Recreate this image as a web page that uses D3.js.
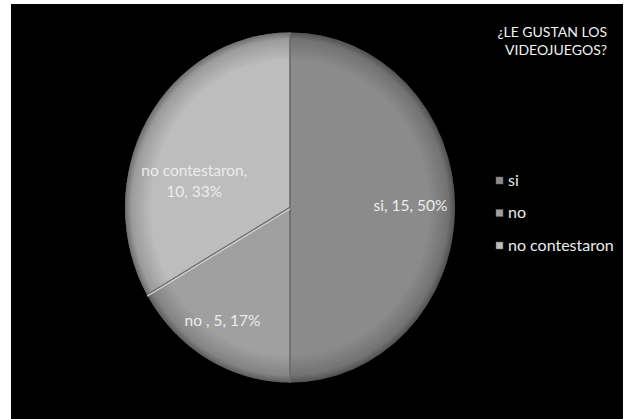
<!DOCTYPE html>
<html>
<head>
<meta charset="utf-8">
<script src="https://cdn.jsdelivr.net/npm/d3@7"></script>
<style>
  body { margin: 0; background: #fff; }
  svg { display: block; }
</style>
</head>
<body>
<div id="chart"></div>
<script>
// data
const categories = ['si', 'no', 'no contestaron'];
const values = [15, 5, 10];
const percents = ['50%', '17%', '33%'];
const sliceColors = ['#8b8b8b', '#a0a0a0', '#bdbdbd'];
const titleLines = ['¿LE GUSTAN LOS', 'VIDEOJUEGOS?'];

const width = 632, height = 419;
const font = 'Lato, "Open Sans", sans-serif';

const svg = d3.select('#chart').append('svg')
  .attr('width', width)
  .attr('height', height);

// black chart area
svg.append('rect')
  .attr('x', 11).attr('y', 4)
  .attr('width', 612).attr('height', height - 4)
  .attr('fill', '#000');

const defs = svg.append('defs');
const shade = defs.append('radialGradient').attr('id', 'shade')
  .attr('gradientUnits', 'userSpaceOnUse')
  .attr('cx', 0).attr('cy', 0).attr('r', 1);
shade.append('stop').attr('offset', '0.84').attr('stop-color', '#000').attr('stop-opacity', 0);
shade.append('stop').attr('offset', '0.96').attr('stop-color', '#000').attr('stop-opacity', 0.18);
shade.append('stop').attr('offset', '1').attr('stop-color', '#000').attr('stop-opacity', 0.42);

const blur = defs.append('filter').attr('id', 'soft')
  .attr('x', '-5%').attr('y', '-5%').attr('width', '110%').attr('height', '110%');
blur.append('feGaussianBlur').attr('stdDeviation', 0.7);

// pie: slightly taller than wide, drawn on a unit circle and scaled
const cx = 290, cy = 207.5, rx = 165, ry = 175;

const pie = d3.pie().sort(null).value(d => d)(values);
const arc = d3.arc().innerRadius(0).outerRadius(1);

const outer = svg.append('g').attr('filter', 'url(#soft)');
const g = outer.append('g')
  .attr('transform', `translate(${cx},${cy}) scale(${rx},${ry})`);

g.selectAll('path.slice')
  .data(pie)
  .join('path')
  .attr('class', 'slice')
  .attr('d', arc)
  .attr('fill', (d, i) => sliceColors[i]);

// outer rim shading
g.selectAll('path.rim')
  .data(pie)
  .join('path')
  .attr('class', 'rim')
  .attr('d', arc)
  .attr('fill', 'url(#shade)');

// slice borders
g.selectAll('line.edge')
  .data(pie)
  .join('line')
  .attr('class', 'edge')
  .attr('x1', 0).attr('y1', 0)
  .attr('x2', d => Math.sin(d.startAngle))
  .attr('y2', d => -Math.cos(d.startAngle))
  .attr('stroke', '#6e6e6e')
  .attr('stroke-width', 1.8)
  .attr('vector-effect', 'non-scaling-stroke');

g.selectAll('line.hi')
  .data(pie.filter((d, i) => i === 2))
  .join('line')
  .attr('class', 'hi')
  .attr('x1', 0).attr('y1', 0)
  .attr('x2', d => Math.sin(d.startAngle))
  .attr('y2', d => -Math.cos(d.startAngle))
  .attr('transform', 'translate(0,0.007)')
  .attr('stroke', '#d6d6d6')
  .attr('stroke-width', 1.2)
  .attr('vector-effect', 'non-scaling-stroke');

// data labels (Excel "best fit" placement: angle shift in degrees, radius fraction)
const labelPlace = [
  { shift: -1, r: 0.73 },
  { shift: 2.6, r: 0.76 },
  { shift: -15.3, r: 0.6 }
];
const labelLines = [
  [`${categories[0]}, ${values[0]}, ${percents[0]}`],
  [`${categories[1]} , ${values[1]}, ${percents[1]}`],
  [`${categories[2]},`, `${values[2]}, ${percents[2]}`]
];

pie.forEach((d, i) => {
  const a = (d.startAngle + d.endAngle) / 2 + labelPlace[i].shift * Math.PI / 180;
  const lx = cx + Math.sin(a) * rx * labelPlace[i].r;
  const ly = cy - Math.cos(a) * ry * labelPlace[i].r;
  const lines = labelLines[i];
  const lh = 21;
  const t = svg.append('text')
    .attr('x', lx)
    .attr('y', ly - (lines.length - 1) * lh / 2)
    .attr('text-anchor', 'middle')
    .attr('dominant-baseline', 'central')
    .attr('fill', '#ececec')
    .attr('font-family', font)
    .attr('font-size', '15.5px');
  lines.forEach((s, j) => {
    t.append('tspan').attr('x', lx).attr('dy', j === 0 ? 0 : lh).text(s);
  });
});

// title
const title = svg.append('text')
  .attr('text-anchor', 'end')
  .attr('fill', '#f2f2f2')
  .attr('font-family', font)
  .attr('font-size', '14px');
titleLines.forEach((s, j) => {
  title.append('tspan').attr('x', 607).attr('y', 37 + j * 18).text(s);
});

// legend
const legend = svg.append('g').attr('transform', 'translate(496,181)');
const items = legend.selectAll('g')
  .data(categories)
  .join('g')
  .attr('transform', (d, i) => `translate(0,${i * 32.5})`);

items.append('rect')
  .attr('x', 0).attr('y', -4)
  .attr('width', 7).attr('height', 7)
  .attr('fill', (d, i) => sliceColors[i])
  .attr('stroke', '#666')
  .attr('stroke-width', 0.5);

items.append('text')
  .attr('x', 12)
  .attr('y', 4.5)
  .attr('fill', '#ececec')
  .attr('font-family', font)
  .attr('font-size', '16px')
  .text(d => d);
</script>
</body>
</html>
